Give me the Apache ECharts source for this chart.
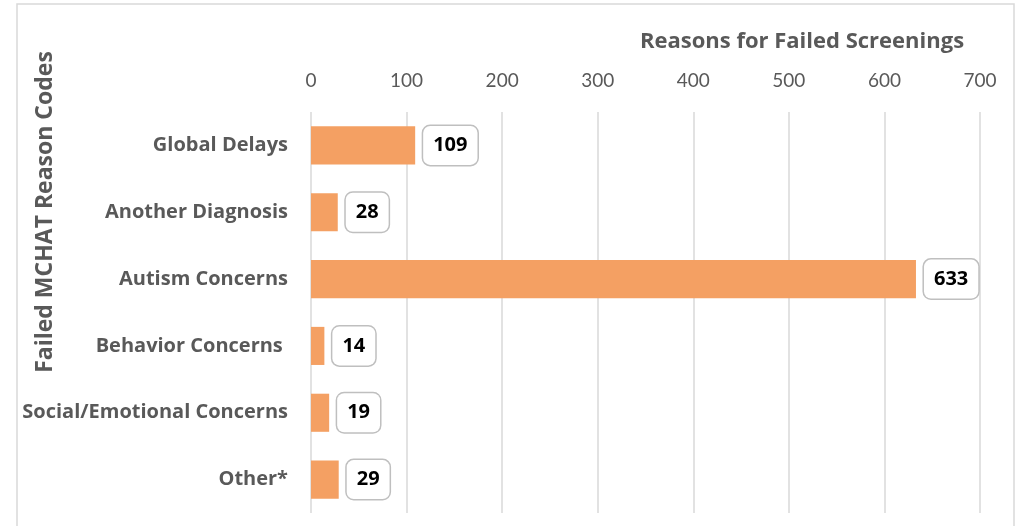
<!DOCTYPE html>
<html>
<head>
<meta charset="utf-8">
<script src="https://cdn.jsdelivr.net/npm/echarts@6/dist/echarts.min.js"></script>
<style>html,body{margin:0;padding:0;background:#fff;}#c{width:1017px;height:526px;}</style>
</head>
<body>
<div id="c"></div>
<script>
var categories = ['Global Delays', 'Another Diagnosis', 'Autism Concerns', 'Behavior Concerns ', 'Social/Emotional Concerns', 'Other*'];
var values = [109, 28, 633, 14, 19, 29];
var xTicks = [0, 100, 200, 300, 400, 500, 600, 700];
var xTitle = 'Reasons for Failed Screenings';
var yTitle = 'Failed MCHAT Reason Codes';

var chart = echarts.init(document.getElementById('c'));
var FONT = 'Lato, "Open Sans", sans-serif';
var BFONT = '"Open Sans", Lato, sans-serif';
chart.setOption({
  animation: false,
  grid: { left: 311, right: 37, top: 112, bottom: 13 },
  xAxis: {
    type: 'value', position: 'top', min: xTicks[0], max: xTicks[xTicks.length - 1], interval: 100,
    axisLine: { show: false }, axisTick: { show: false },
    axisLabel: { color: '#595959', fontSize: 19, fontFamily: FONT, margin: 22 },
    splitLine: { lineStyle: { color: '#d9d9d9', width: 1.5 } }
  },
  yAxis: {
    type: 'category', data: categories, inverse: true,
    axisLine: { show: false }, axisTick: { show: false },
    axisLabel: { color: '#595959', fontSize: 20, fontWeight: 'bold', fontFamily: BFONT, margin: 23, padding: [4, 0, 0, 0] }
  },
  series: [{
    type: 'bar', data: values, barCategoryGap: '43%',
    itemStyle: { color: '#F4A063' },
    label: {
      show: true, position: 'right', distance: 8,
      color: '#000', fontSize: 20, fontWeight: 'bold', fontFamily: BFONT,
      backgroundColor: '#fff', borderColor: '#bfbfbf', borderWidth: 1.5, borderRadius: 7,
      padding: [10, 10, 9, 10]
    }
  }],
  graphic: [
    { type: 'rect', shape: { x: 17, y: 4, width: 997, height: 540 }, style: { fill: 'none', stroke: '#d9d9d9', lineWidth: 1.5 }, z: -1 },
    { type: 'text', x: 802, y: 42, style: { text: xTitle, textAlign: 'center', textVerticalAlign: 'middle', fill: '#595959', font: 'bold 22px ' + BFONT } },
    { type: 'text', x: 45, y: 212, rotation: Math.PI / 2, style: { text: yTitle, textAlign: 'center', textVerticalAlign: 'middle', fill: '#595959', font: 'bold 23px ' + BFONT } }
  ]
});
</script>
</body>
</html>
